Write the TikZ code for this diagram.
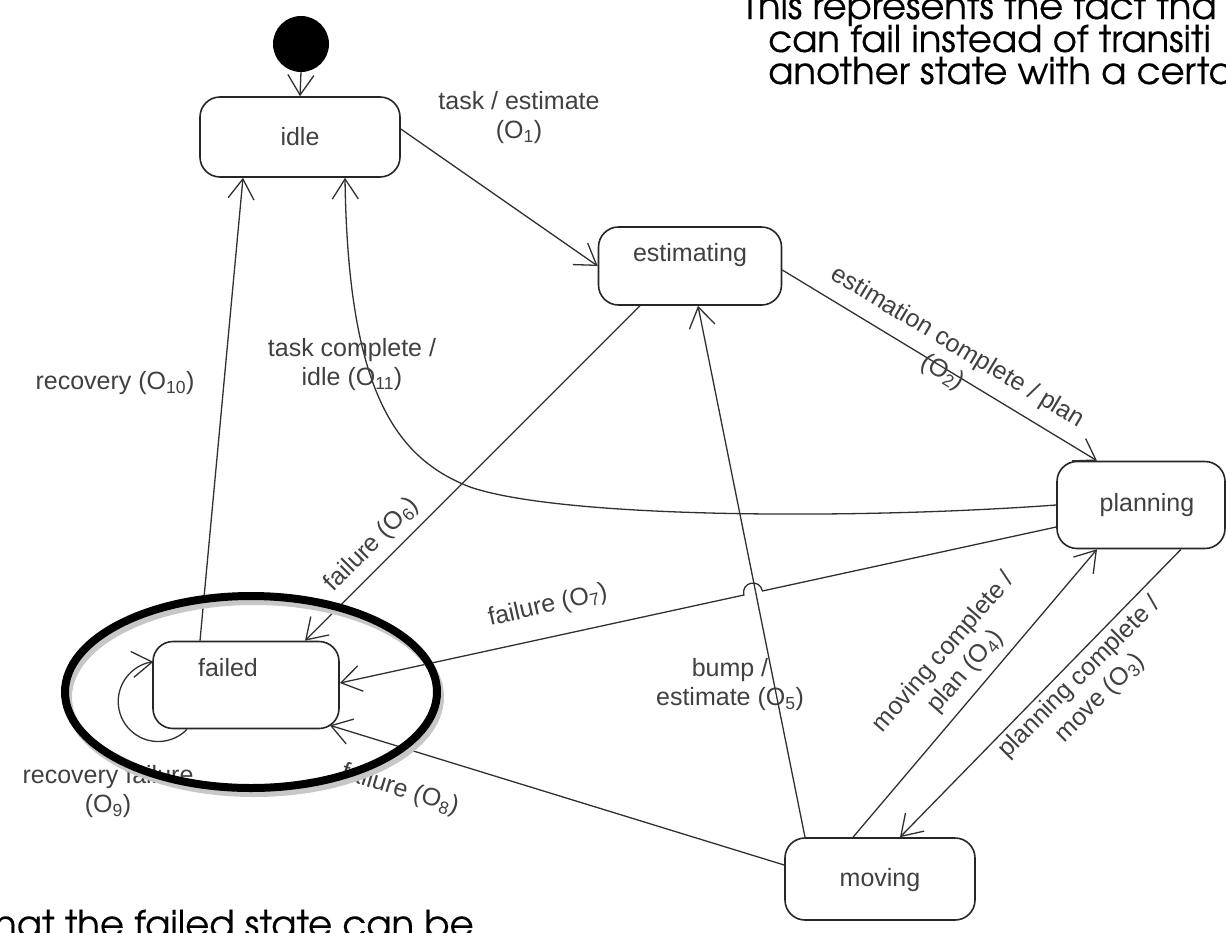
\documentclass[tikz,border=0pt]{standalone}
\usepackage{fontspec}
\setmainfont{Liberation Sans}
\newfontfamily\slidefont[FakeBold=0.35]{TeX Gyre Adventor}
\usetikzlibrary{arrows.meta,calc}
\definecolor{linegray}{HTML}{303030}
\definecolor{textgray}{HTML}{404040}
\begin{document}
\begin{tikzpicture}[x=1pt,y=-1pt,
  state/.style={draw=black!85, line width=1.6pt, rounded corners=20pt, fill=white, inner sep=0pt},
  stext/.style={font=\fontsize{25}{28}\selectfont, text=textgray, inner sep=0pt},
  tr/.style={draw=linegray, line width=1.3pt, -{Straight Barb[length=20pt,width=26pt,line width=1.3pt]}},
  lbl/.style={font=\fontsize{25}{29}\selectfont, text=textgray, align=center, inner sep=0pt},
  slide/.style={font=\slidefont\fontsize{37}{42}\selectfont, anchor=base west, inner sep=0pt}
]
\useasboundingbox (0,0) rectangle (1226,932);
\clip (0,0) rectangle (1226,932);

% slide text
\node[slide] (s1) at (742,19) {This represents the fact tha};
\node[slide] (s2) at (768,52) {can fail instead of transiti};
\node[slide] (s3) at (768,84) {another state with a certa};
\node[slide] (s4) at (-6,937) {hat the failed state can be};

% states
\node[circle, fill=black, minimum size=56pt, inner sep=0pt] (init) at (301,44) {};
\node[state, minimum width=200pt, minimum height=80pt] (idle) at (300,137) {};
\node[state, minimum width=183pt, minimum height=78pt] (est) at (690,266) {};
\node[state, minimum width=168pt, minimum height=87pt] (plan) at (1141,505) {};
\node[state, minimum width=186pt, minimum height=87pt] (failed) at (246,685) {};
\node[state, minimum width=190pt, minimum height=82pt] (moving) at (880,879) {};
\node[stext] (idleT) at (idle.center) {idle};
\node[stext] (estT) at (690,255) {estimating};
\node[stext] (planT) at (1147,505) {planning};
\node[stext] (failedT) at (228,668) {failed};
\node[stext] (movingT) at (880,880) {moving};

% transitions
\draw[tr] (init.south) -- (idle.north);
\draw[tr] ([yshift=8pt]idle.east) -- (est.west);
\draw[tr] ([yshift=-4pt]est.east) -- ([xshift=-44pt]plan.north);
\draw[tr] ([xshift=40pt]plan.south) -- ([xshift=20pt]moving.north);
\draw[tr] ([xshift=-27pt]moving.north) -- ([xshift=-44pt]plan.south);
\draw[tr] ([xshift=-75pt]moving.north) -- ([xshift=8pt]est.south);
\draw[tr] ([xshift=-50pt]est.south) -- ([xshift=59pt]failed.north);
\draw[tr] ([xshift=-46pt]failed.north) -- ([xshift=-57pt]idle.south);
\draw[tr] ([yshift=14pt]moving.west) -- ([xshift=-10pt,yshift=4pt]failed.south east);
\draw[tr] (plan.west) .. controls (850,520) and (560,518) .. (470,487)
  .. controls (395,458) and (348,390) .. ([xshift=45pt]idle.south);
% failure O7 with a hop over the bump line
\path ([yshift=-22pt]plan.west) -- ([yshift=2pt]failed.east)
  coordinate[pos=0.410] (h1) coordinate[pos=0.436] (h2);
\draw[tr] ([yshift=-22pt]plan.west) -- (h1) .. controls +(-3,-13) and +(-3,-13) .. (h2)
  -- ([yshift=2pt]failed.east);
% self loop
\draw[tr] ([xshift=-59pt]failed.south) arc[start angle=44, end angle=263, radius=40];

% labels
\node[lbl] (l1) at (519,118) {task / estimate\\(O\textsubscript{1})};
\node[lbl, rotate=-31] (l2) at (950,360) {estimation complete / plan\\(O\textsubscript{2})};
\node[lbl, rotate=45] (l3) at (1090,688) {planning complete /\\move (O\textsubscript{3})};
\node[lbl, rotate=49] (l4) at (955,662) {moving complete /\\plan (O\textsubscript{4})};
\node[lbl] (l5) at (730,685) {bump /\\estimate (O\textsubscript{5})};
\node[lbl, rotate=45] (l6) at (372,545) {failure (O\textsubscript{6})};
\node[lbl, rotate=13] (l7) at (548,606) {failure (O\textsubscript{7})};
\node[lbl, rotate=-17] (l8) at (400,790) {failure (O\textsubscript{8})};
\node[lbl] (l9) at (108,792) {recovery failure\\(O\textsubscript{9})};
\node[lbl] (l10) at (115,383) {recovery (O\textsubscript{10})};
\node[lbl] (l11) at (352,365) {task complete /\\idle (O\textsubscript{11})};

% highlight ellipse
\draw[black!22, line width=8pt] (254,697) ellipse[x radius=186, y radius=96];
\draw[black, line width=8pt] (251,692) ellipse[x radius=186, y radius=96];
\end{tikzpicture}
\end{document}
